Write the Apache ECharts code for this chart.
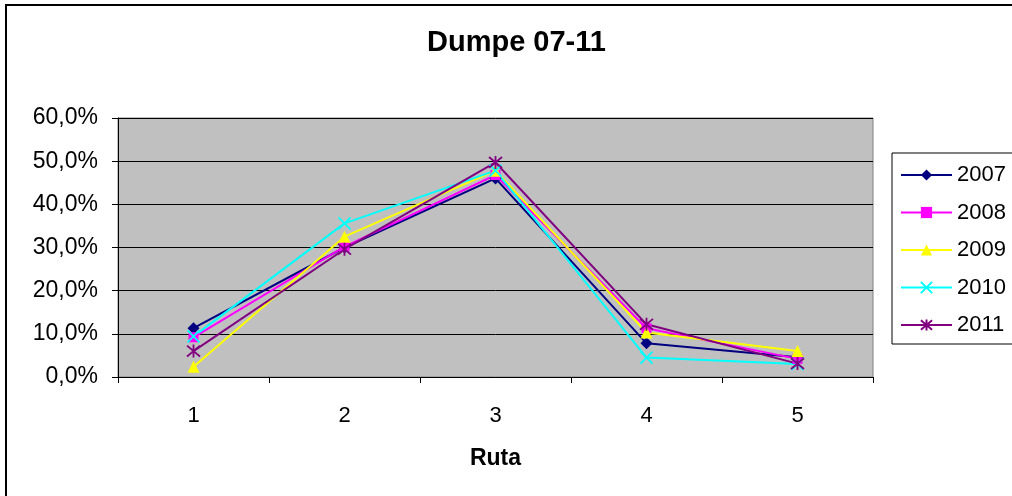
<!DOCTYPE html>
<html>
<head>
<meta charset="utf-8">
<script src="https://cdn.jsdelivr.net/npm/echarts@6/dist/echarts.min.js"></script>
<style>
html,body{margin:0;padding:0;background:#fff;}
#chart{width:1012px;height:496px;}
</style>
</head>
<body>
<div id="chart"></div>
<script>
const categories = ['1', '2', '3', '4', '5'];
const seriesNames = ['2007', '2008', '2009', '2010', '2011'];
const s2007 = [11.3, 30.0, 46.0, 7.8, 4.6];
const s2008 = [9.2, 30.2, 46.8, 11.3, 4.2];
const s2009 = [2.4, 32.5, 47.8, 10.3, 6.0];
const s2010 = [9.4, 35.6, 47.8, 4.5, 3.0];
const s2011 = [6.0, 29.6, 49.7, 12.2, 3.1];
const titleText = 'Dumpe 07-11';
const xAxisName = 'Ruta';

const FONT = "'Liberation Sans', Arial, sans-serif";
const dataSets = [s2007, s2008, s2009, s2010, s2011];
const colors = ['#000080', '#FF00FF', '#FFFF00', '#00FFFF', '#800080'];
const symbols = [
  'diamond',
  'rect',
  'triangle',
  'path://M0,0L10,10M10,0L0,10',
  'path://M0,0L10,10M10,0L0,10M5,-1L5,11'
];
const sizes = [12, 10, 12, 12, 13];

const chart = echarts.init(document.getElementById('chart'), null, {renderer: 'canvas'});
const series = seriesNames.map((n, i) => ({
  name: n,
  type: 'line',
  data: dataSets[i],
  symbol: symbols[i],
  symbolSize: sizes[i],
  showSymbol: true,
  lineStyle: {color: colors[i], width: 2},
  itemStyle: {
    color: colors[i],
    borderColor: colors[i],
    borderWidth: i >= 3 ? 1.8 : 0
  },
  emphasis: {disabled: true}
}));

chart.setOption({
  animation: false,
  title: {
    text: titleText,
    left: 422,
    top: 23,
    textStyle: {fontFamily: FONT, fontSize: 29, fontWeight: 'bold', color: '#000'}
  },
  graphic: [{
    type: 'rect',
    shape: {x: 6, y: 5, width: 1100, height: 600},
    style: {fill: 'none', stroke: '#000', lineWidth: 2},
    silent: true
  }],
  legend: {
    orient: 'vertical',
    left: 892,
    top: 153,
    padding: [11, 12, 8, 8],
    itemWidth: 51,
    itemHeight: 14,
    itemGap: 15.5,
    backgroundColor: '#fff',
    borderColor: '#000',
    borderWidth: 1,
    textStyle: {fontFamily: FONT, fontSize: 22, color: '#000', lineHeight: 22},
    data: seriesNames
  },
  grid: {
    left: 118, right: 139, top: 118, bottom: 119,
    show: true,
    backgroundColor: '#C0C0C0',
    borderColor: '#808080',
    borderWidth: 1
  },
  xAxis: {
    type: 'category',
    data: categories,
    boundaryGap: true,
    name: xAxisName,
    nameLocation: 'middle',
    nameGap: 70,
    nameTextStyle: {fontFamily: FONT, fontSize: 23, fontWeight: 'bold', color: '#000'},
    axisLine: {lineStyle: {color: '#000', width: 1}},
    axisTick: {show: true, length: 6, alignWithLabel: false, lineStyle: {color: '#000'}},
    axisLabel: {fontFamily: FONT, fontSize: 22, color: '#000', margin: 28}
  },
  yAxis: {
    type: 'value',
    min: 0,
    max: 60,
    interval: 10,
    axisLine: {show: true, lineStyle: {color: '#000', width: 1}},
    axisTick: {show: true, length: 6, lineStyle: {color: '#000'}},
    splitLine: {show: true, lineStyle: {color: '#000', width: 1}},
    axisLabel: {
      fontFamily: FONT, fontSize: 23, color: '#000', margin: 20,
      formatter: v => v.toFixed(1).replace('.', ',') + '%'
    }
  },
  series: series
});
</script>
</body>
</html>
